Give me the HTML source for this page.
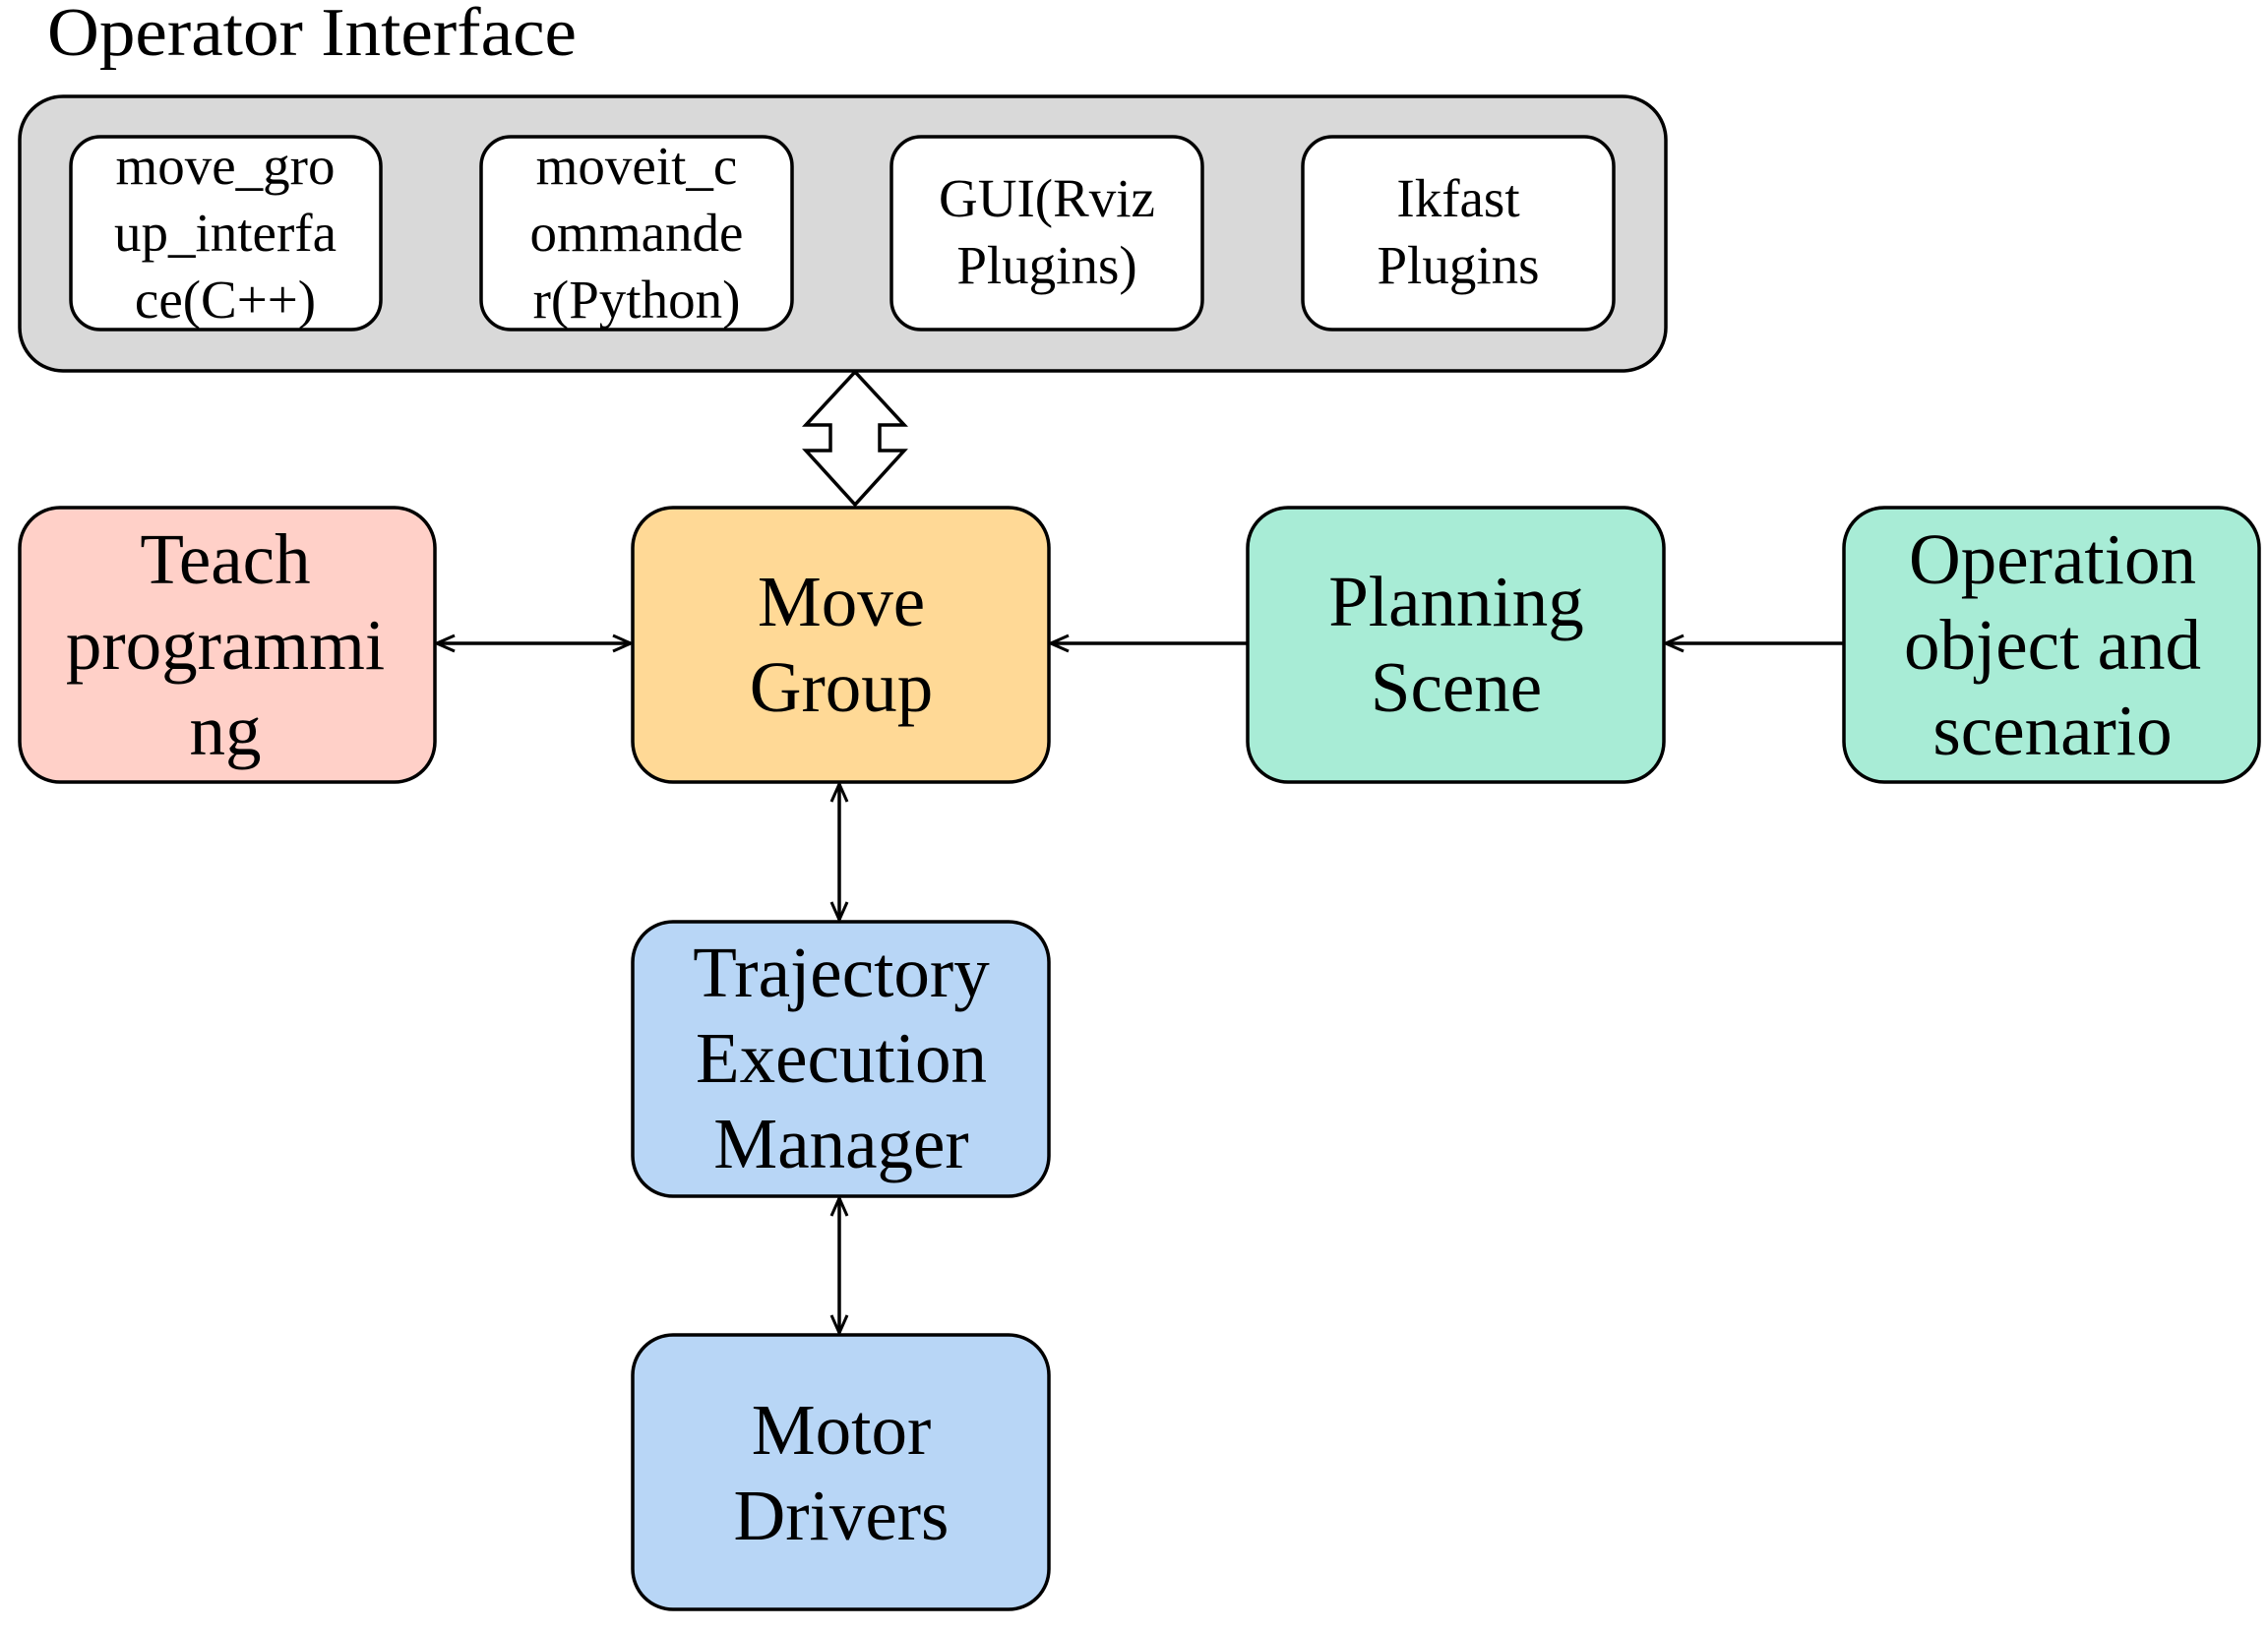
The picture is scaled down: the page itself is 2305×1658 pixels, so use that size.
<!DOCTYPE html>
<html><head><meta charset="utf-8"><style>
html,body{margin:0;padding:0;background:#fff;}
svg text{font-family:"Liberation Serif","Times New Roman",serif;fill:#000;}
</style></head><body>
<svg width="2305" height="1653" viewBox="0 0 2305 1653" xmlns="http://www.w3.org/2000/svg">
<defs>
<marker id="a" viewBox="0 0 20 20" refX="19" refY="10" markerWidth="20" markerHeight="20" markerUnits="userSpaceOnUse" orient="auto-start-reverse">
<path d="M1,2 L19,10 L1,18" fill="none" stroke="#000" stroke-width="3"/>
</marker>
</defs>
<text x="48" y="56" font-size="70" textLength="538" lengthAdjust="spacingAndGlyphs">Operator Interface</text>
<rect x="20" y="98" width="1673" height="279" rx="44" fill="#d9d9d9" stroke="#000" stroke-width="3.5"/>
<g fill="#fff" stroke="#000" stroke-width="3.5">
<rect x="72" y="139" width="315" height="196" rx="30"/>
<rect x="489" y="139" width="316" height="196" rx="30"/>
<rect x="906" y="139" width="316" height="196" rx="30"/>
<rect x="1324" y="139" width="316" height="196" rx="30"/>
</g>
<g font-size="55" text-anchor="middle">
<text x="229" y="187">move_gro</text><text x="229" y="255">up_interfa</text><text x="229" y="323">ce(C++)</text>
<text x="647" y="187">moveit_c</text><text x="647" y="255">ommande</text><text x="647" y="323">r(Python)</text>
<text x="1064" y="220">GUI(Rviz</text><text x="1064" y="288">Plugins)</text>
<text x="1482" y="220">Ikfast</text><text x="1482" y="288">Plugins</text>
</g>
<path d="M869,378 L919,432 L894,432 L894,458 L919,458 L869,513 L819,458 L844,458 L844,432 L819,432 Z" fill="#fff" stroke="#000" stroke-width="3.5"/>
<g stroke="#000" stroke-width="3.5">
<rect x="20" y="516" width="422" height="279" rx="41" fill="#ffd0c8"/>
<rect x="643" y="516" width="423" height="279" rx="41" fill="#ffd996"/>
<rect x="1268" y="516" width="423" height="279" rx="41" fill="#a8ecd6"/>
<rect x="1874" y="516" width="422" height="279" rx="41" fill="#a8ecd6"/>
<rect x="643" y="937" width="423" height="279" rx="41" fill="#b8d6f6"/>
<rect x="643" y="1357" width="423" height="279" rx="41" fill="#b8d6f6"/>
</g>
<g stroke="#000" stroke-width="3.5" fill="none">
<line x1="444" y1="654" x2="641" y2="654" marker-start="url(#a)" marker-end="url(#a)"/>
<line x1="1268" y1="654" x2="1068" y2="654" marker-end="url(#a)"/>
<line x1="1874" y1="654" x2="1693" y2="654" marker-end="url(#a)"/>
<line x1="853" y1="797" x2="853" y2="935" marker-start="url(#a)" marker-end="url(#a)"/>
<line x1="853" y1="1218" x2="853" y2="1355" marker-start="url(#a)" marker-end="url(#a)"/>
</g>
<g font-size="73" text-anchor="middle">
<text x="229" y="593">Teach</text><text x="229" y="680">programmi</text><text x="229" y="767">ng</text>
<text x="855" y="636">Move</text><text x="855" y="723">Group</text>
<text x="1480" y="636">Planning</text><text x="1480" y="723">Scene</text>
<text x="2086" y="593">Operation</text><text x="2086" y="680">object and</text><text x="2086" y="767">scenario</text>
<text x="855" y="1013">Trajectory</text><text x="855" y="1100">Execution</text><text x="855" y="1187">Manager</text>
<text x="855" y="1478">Motor</text><text x="855" y="1565">Drivers</text>
</g>
</svg>
</body></html>
